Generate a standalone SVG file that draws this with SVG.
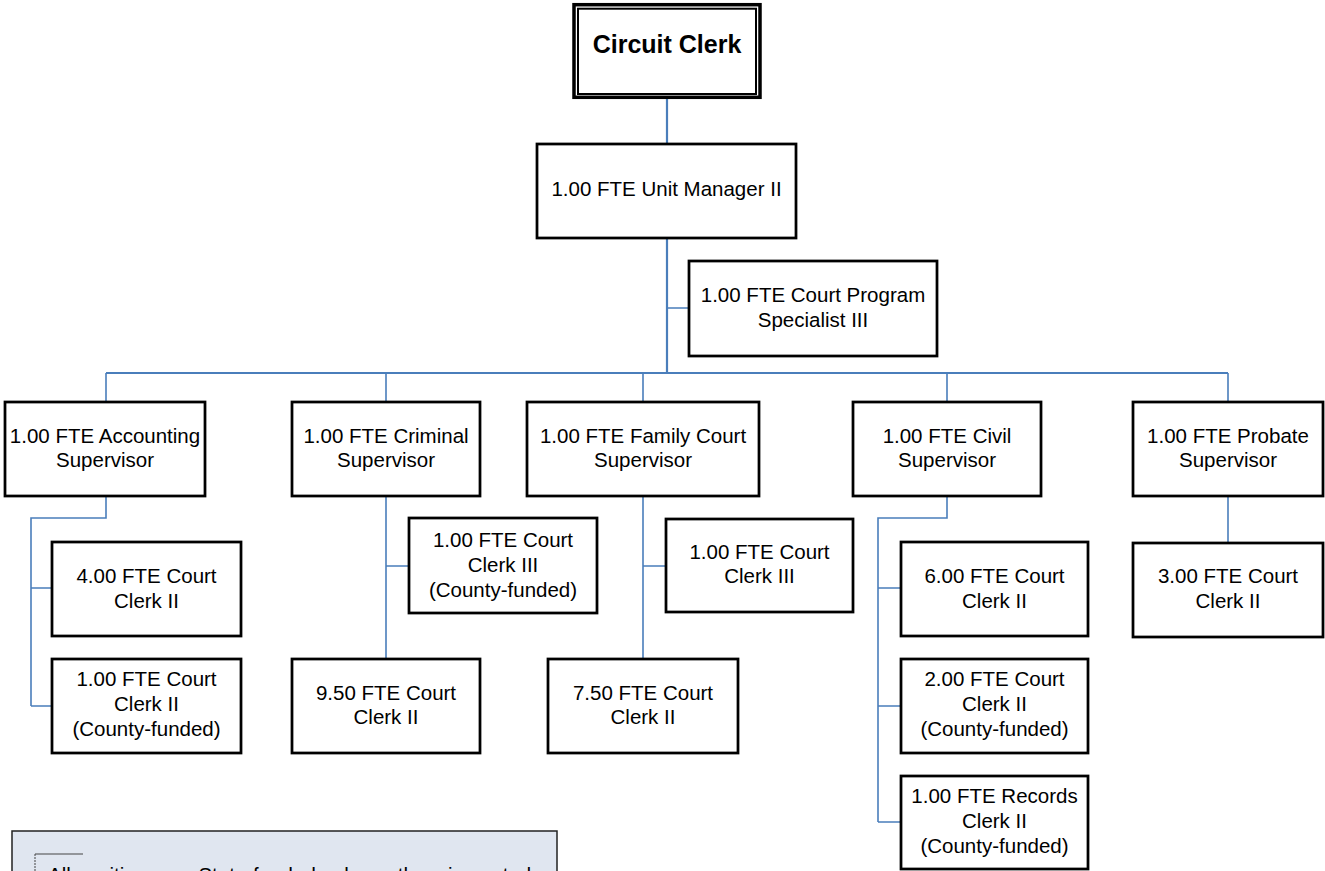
<svg xmlns="http://www.w3.org/2000/svg" width="1325" height="871" viewBox="0 0 1325 871">
<style>
.box{fill:#fff;stroke:#000;stroke-width:2.75}
.t{font-family:"Liberation Sans",Arial,sans-serif;font-size:20.5px;fill:#000;text-anchor:middle}
.tb{font-family:"Liberation Sans",Arial,sans-serif;font-size:25px;font-weight:bold;fill:#000;text-anchor:middle}
.c{fill:none;stroke:#4A7EBB;stroke-width:1.6}
.cm{fill:none;stroke:#4A7EBB;stroke-width:2.2}
</style>
<rect width="1325" height="871" fill="#fff"/>
<g id="connectors">
<path class="cm" d="M667,98V144M667,238V373M106,373H1228"/>
<path class="c" d="M667,308H689M106,373V402M386,373V402M643,373V402M947,373V402M1228,373V402"/>
<path class="c" d="M106,496V518H31V706M31,588H52M31,706H52"/>
<path class="c" d="M386,496V659M386,566H409"/>
<path class="c" d="M643,496V659M643,566H666"/>
<path class="c" d="M947,496V518H878V822M878,588H901M878,706H901M878,822H901"/>
<path class="c" d="M1228,496V543"/>
</g>
<g id="circuit-clerk">
<rect x="574" y="4.7" width="186" height="92.6" fill="#fff" stroke="#000" stroke-width="3.5"/>
<rect x="578" y="8.7" width="178" height="85.3" fill="none" stroke="#000" stroke-width="2"/>
<text class="tb" x="667" y="53">Circuit Clerk</text>
</g>
<g id="unit-manager">
<rect class="box" x="537" y="144" width="259" height="94"/>
<text class="t" x="666.5" y="196">1.00 FTE Unit Manager II</text>
</g>
<g id="program-specialist">
<rect class="box" x="689" y="261" width="248" height="95"/>
<text class="t" x="813" y="302">1.00 FTE Court Program</text>
<text class="t" x="813" y="327">Specialist III</text>
</g>
<g id="accounting-supervisor">
<rect class="box" x="5" y="402" width="200" height="94"/>
<text class="t" x="105" y="443">1.00 FTE Accounting</text>
<text class="t" x="105" y="467">Supervisor</text>
</g>
<g id="criminal-supervisor">
<rect class="box" x="292" y="402" width="188" height="94"/>
<text class="t" x="386" y="443">1.00 FTE Criminal</text>
<text class="t" x="386" y="467">Supervisor</text>
</g>
<g id="family-supervisor">
<rect class="box" x="527" y="402" width="232" height="94"/>
<text class="t" x="643" y="443">1.00 FTE Family Court</text>
<text class="t" x="643" y="467">Supervisor</text>
</g>
<g id="civil-supervisor">
<rect class="box" x="853" y="402" width="188" height="94"/>
<text class="t" x="947" y="443">1.00 FTE Civil</text>
<text class="t" x="947" y="467">Supervisor</text>
</g>
<g id="probate-supervisor">
<rect class="box" x="1133" y="402" width="190" height="94"/>
<text class="t" x="1228" y="443">1.00 FTE Probate</text>
<text class="t" x="1228" y="467">Supervisor</text>
</g>
<g id="acc-clerk-ii">
<rect class="box" x="52" y="542" width="189" height="94"/>
<text class="t" x="146.5" y="583">4.00 FTE Court</text>
<text class="t" x="146.5" y="608">Clerk II</text>
</g>
<g id="acc-clerk-ii-county">
<rect class="box" x="52" y="659" width="189" height="94"/>
<text class="t" x="146.5" y="686">1.00 FTE Court</text>
<text class="t" x="146.5" y="711">Clerk II</text>
<text class="t" x="146.5" y="736">(County-funded)</text>
</g>
<g id="crim-clerk-iii-county">
<rect class="box" x="409" y="518" width="188" height="95"/>
<text class="t" x="503" y="547">1.00 FTE Court</text>
<text class="t" x="503" y="572">Clerk III</text>
<text class="t" x="503" y="597">(County-funded)</text>
</g>
<g id="crim-clerk-ii">
<rect class="box" x="292" y="659" width="188" height="94"/>
<text class="t" x="386" y="700">9.50 FTE Court</text>
<text class="t" x="386" y="724">Clerk II</text>
</g>
<g id="fam-clerk-iii">
<rect class="box" x="666" y="519" width="187" height="93"/>
<text class="t" x="759.5" y="559">1.00 FTE Court</text>
<text class="t" x="759.5" y="583">Clerk III</text>
</g>
<g id="fam-clerk-ii">
<rect class="box" x="548" y="659" width="190" height="94"/>
<text class="t" x="643" y="700">7.50 FTE Court</text>
<text class="t" x="643" y="724">Clerk II</text>
</g>
<g id="civ-clerk-ii">
<rect class="box" x="901" y="542" width="187" height="94"/>
<text class="t" x="994.5" y="583">6.00 FTE Court</text>
<text class="t" x="994.5" y="608">Clerk II</text>
</g>
<g id="civ-clerk-ii-county">
<rect class="box" x="901" y="659" width="187" height="94"/>
<text class="t" x="994.5" y="686">2.00 FTE Court</text>
<text class="t" x="994.5" y="711">Clerk II</text>
<text class="t" x="994.5" y="736">(County-funded)</text>
</g>
<g id="civ-records-clerk">
<rect class="box" x="901" y="776" width="187" height="93"/>
<text class="t" x="994.5" y="803">1.00 FTE Records</text>
<text class="t" x="994.5" y="828">Clerk II</text>
<text class="t" x="994.5" y="853">(County-funded)</text>
</g>
<g id="prob-clerk-ii">
<rect class="box" x="1133" y="543" width="190" height="94"/>
<text class="t" x="1228" y="583">3.00 FTE Court</text>
<text class="t" x="1228" y="608">Clerk II</text>
</g>
<g id="legend">
<rect x="12" y="831" width="545" height="70" fill="#E0E6F0" stroke="#222" stroke-width="1.5"/>
<path d="M83,854H35" fill="none" stroke="#444" stroke-width="1"/>
<path d="M35,854V880" fill="none" stroke="#444" stroke-width="1" stroke-dasharray="2,1"/>
<text x="48" y="882" font-family="Liberation Sans, Arial, sans-serif" font-size="20.5" fill="#000">All positions are State-funded unless otherwise noted</text>
</g>
</svg>
